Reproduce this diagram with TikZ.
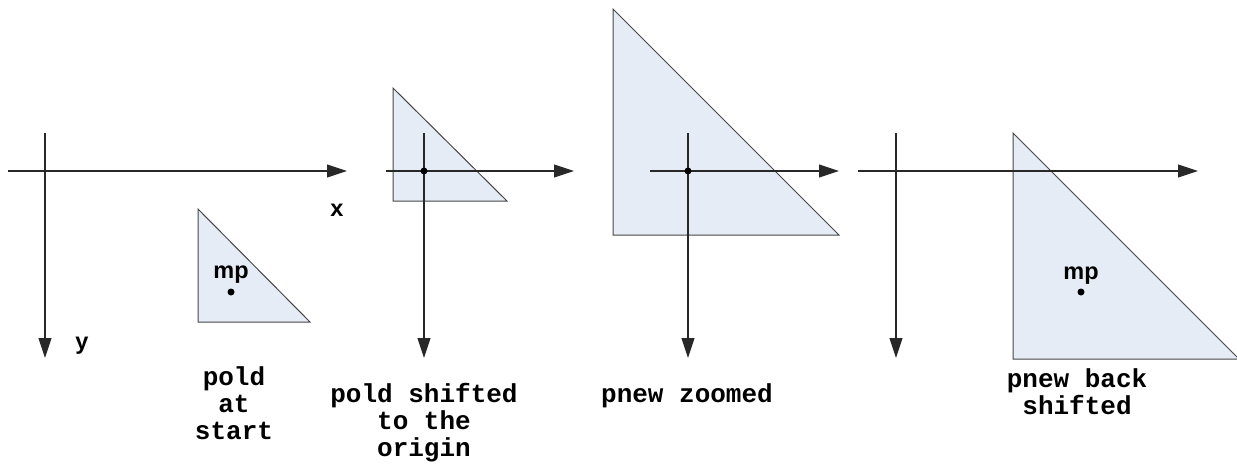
\documentclass[tikz,border=0pt]{standalone}
\usepackage{fontspec}
\setmainfont{Liberation Sans}
\newfontfamily\monofam{Liberation Mono}
\usetikzlibrary{arrows.meta}
\definecolor{trifill}{RGB}{230,236,246}
\definecolor{axiscol}{RGB}{40,40,40}
\definecolor{edgecol}{RGB}{70,70,70}
\newcommand{\codefont}{\monofam\bfseries\fontsize{26}{27}\selectfont}
\tikzset{
  axis/.style={draw=axiscol, line width=1.1pt, -{Triangle[length=20pt,width=13pt]}},
  tri/.style={fill=trifill, draw=edgecol, line width=1pt, line join=miter},
  dotmark/.style={circle, fill=black, inner sep=0pt, minimum size=7pt},
  lbl/.style={font=\bfseries\fontsize{23.5}{26}\selectfont, inner sep=0pt},
  codelbl/.style={font=\codefont, align=center, inner sep=0pt, anchor=base}
}
\begin{document}
\begin{tikzpicture}[x=1pt,y=-1pt]
\useasboundingbox (0,0) rectangle (1237,472);
% ---------- panel 1 ----------
\path[tri] (198,209) -- (198,322) -- (310,322) -- cycle;
\coordinate (a1s) at (8,171);  \coordinate (a1e) at (347,171);
\coordinate (b1s) at (45,133); \coordinate (b1e) at (45,358);
\draw[axis] (a1s) -- (a1e);
\draw[axis] (b1s) -- (b1e);
\node[lbl, anchor=base] (xl) at (337,216) {x};
\node[lbl, anchor=base] (yl) at (82,349) {y};
\node[lbl, anchor=base] (mp1) at (231,278) {mp};
\node[dotmark] (d1) at (231,292) {};
\node[codelbl] (t1) at (234,439) {pold\\at\\start};
% ---------- panel 2 ----------
\path[tri] (393,88) -- (393,201) -- (507,201) -- cycle;
\coordinate (a2s) at (386,171); \coordinate (a2e) at (574,171);
\coordinate (b2s) at (424,133); \coordinate (b2e) at (424,358);
\draw[axis] (a2s) -- (a2e);
\draw[axis] (b2s) -- (b2e);
\node[dotmark] (d2) at (424,171) {};
\node[codelbl] (t2) at (424,456) {pold shifted\\to the\\origin};
% ---------- panel 3 ----------
\path[tri] (613,9) -- (613,235) -- (839,235) -- cycle;
\coordinate (a3s) at (650,171); \coordinate (a3e) at (839,171);
\coordinate (b3s) at (688,133); \coordinate (b3e) at (688,358);
\draw[axis] (a3s) -- (a3e);
\draw[axis] (b3s) -- (b3e);
\node[dotmark] (d3) at (688,171) {};
\node[codelbl] (t3) at (687,402) {pnew zoomed};
% ---------- panel 4 ----------
\path[tri] (1013,133) -- (1013,359) -- (1239,359) -- cycle;
\coordinate (a4s) at (858,171); \coordinate (a4e) at (1198,171);
\coordinate (b4s) at (896,133); \coordinate (b4e) at (896,358);
\draw[axis] (a4s) -- (a4e);
\draw[axis] (b4s) -- (b4e);
\node[lbl, anchor=base] (mp4) at (1081,279) {mp};
\node[dotmark] (d4) at (1081,292) {};
\node[codelbl] (t4) at (1077,414) {pnew back\\shifted};
\end{tikzpicture}
\end{document}
